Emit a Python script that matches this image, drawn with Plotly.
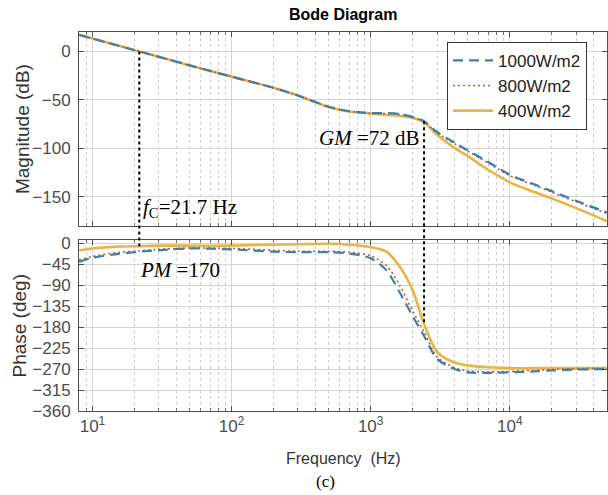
import math
import plotly.graph_objects as go
from plotly.subplots import make_subplots

# ---------------- data ----------------
freq = [8, 10, 15, 21.7, 30, 50, 100, 200, 300, 500, 700, 1000, 1300, 1600,
        2000, 2420, 3000, 4000, 5000, 7000, 10000, 15000, 20000, 30000, 50000]

mag_1000 = [17, 13.3, 6.3, 0, -5.6, -14.4, -26, -37.5, -45.5, -57, -61.5, -63.5, -63.5, -64.5,
            -67.5, -72, -83, -94, -102, -114, -127, -137, -144, -154, -166]
mag_800 = [17, 13.3, 6.3, 0, -5.6, -14.4, -26, -37.5, -45.5, -57.2, -61.8, -64, -64, -65,
           -68, -72.5, -84, -95, -103, -115, -128, -138, -145, -155, -167]
mag_400 = [17, 13.3, 6.3, 0, -5.6, -14.4, -26, -37.5, -45.5, -57.5, -62, -64, -65.5, -66.5,
           -68.5, -73, -86, -99.5, -108, -122, -135, -145, -151.5, -161.5, -175]

ph_1000 = [-40, -31, -23, -18, -15, -11, -13, -18, -19, -19, -22, -32, -58, -103,
           -156, -199, -248, -270, -277, -278, -277, -275, -273, -271, -270]
ph_800 = [-36, -28, -20, -16, -13, -10, -11, -15, -17, -17, -19, -27, -48, -88,
          -145, -190, -244, -267, -274, -276, -275, -273, -271, -269, -268]
ph_400 = [-15, -11, -7, -6, -5, -5, -5, -3, -2, -1, -3, -8, -18, -48,
          -100, -173, -233, -256, -262, -266, -268, -268, -268, -268, -268]

series_names = ["1000W/m2", "800W/m2", "400W/m2"]

fc = 21.7          # crossover frequency (Hz)
f_gm = 2420        # phase-crossover frequency (Hz)
gm_mag = -72       # magnitude at f_gm
pm_phase = -6      # phase near fc
gm_phase = -176    # phase at f_gm

x_tickvals = [10, 100, 1000, 10000]
x_ticktext = ["10<sup>1</sup>", "10<sup>2</sup>", "10<sup>3</sup>", "10<sup>4</sup>"]
minor_vals = [m * 10 ** e for e in range(0, 5) for m in range(2, 10) if 8 <= m * 10 ** e <= 50000]
mag_ticks = [0, -50, -100, -150]
ph_ticks = [0, -45, -90, -135, -180, -225, -270, -315, -360]

# ---------------- layout geometry ----------------
W, H = 608, 495
mag_range = [-180, 20]
ph_range = [-360, 7]
mag_dom = [0.488, 1.0]
ph_dom = [0.0, 0.451]

fig = make_subplots(rows=2, cols=1, shared_xaxes=False, vertical_spacing=0.03)

styles = {
    "1000W/m2": dict(color="#3b80ad", width=2.2, dash="10px,6px"),
    "800W/m2": dict(color="#c0582c", width=1.6, dash="2px,3px"),
    "400W/m2": dict(color="#e8b446", width=2.6, dash="solid"),
}
mags = {"1000W/m2": mag_1000, "800W/m2": mag_800, "400W/m2": mag_400}
phs = {"1000W/m2": ph_1000, "800W/m2": ph_800, "400W/m2": ph_400}
rank = {"1000W/m2": 1, "800W/m2": 2, "400W/m2": 3}

for name in ["400W/m2", "800W/m2", "1000W/m2"]:
    st = styles[name]
    fig.add_trace(go.Scatter(x=freq, y=mags[name], mode="lines", name=name,
                             line=dict(color=st["color"], width=st["width"], dash=st["dash"],
                                       shape="spline", smoothing=0.8),
                             legendrank=rank[name], showlegend=True), row=1, col=1)
    fig.add_trace(go.Scatter(x=freq, y=phs[name], mode="lines", name=name,
                             line=dict(color=st["color"], width=st["width"], dash=st["dash"],
                                       shape="spline", smoothing=0.8),
                             legendrank=rank[name], showlegend=False), row=2, col=1)

axis_common = dict(
    type="log", range=[math.log10(8), math.log10(50000)],
    showline=True, linecolor="#505050", linewidth=1, mirror="ticks",
    ticks="inside", ticklen=5, tickcolor="#505050",
    tickvals=x_tickvals, ticktext=x_ticktext,
    showgrid=True, gridcolor="#d4d4d4", gridwidth=1,
    minor=dict(tickvals=minor_vals, ticks="inside", ticklen=3, tickcolor="#707070",
               showgrid=True, gridcolor="#cfcfcf", griddash="dot", gridwidth=1),
    zeroline=False,
    tickfont=dict(family="Liberation Sans", size=17, color="#4d4d4d"),
)
fig.update_xaxes(**axis_common)
fig.update_xaxes(showticklabels=False, row=1, col=1)
fig.update_xaxes(showticklabels=True, row=2, col=1)

yaxis_common = dict(
    showline=True, linecolor="#505050", linewidth=1, mirror="ticks",
    ticks="inside", ticklen=5, tickcolor="#505050",
    showgrid=True, gridcolor="#d4d4d4", gridwidth=1, zeroline=False,
    tickfont=dict(family="Liberation Sans", size=17, color="#4d4d4d"),
    ticklabelstandoff=4,
)
fig.update_yaxes(**yaxis_common)
fig.update_yaxes(range=mag_range, tickvals=mag_ticks, domain=mag_dom, row=1, col=1)
fig.update_yaxes(range=ph_range, tickvals=ph_ticks, domain=ph_dom, row=2, col=1)
fig.update_xaxes(domain=[0, 1])


def mag_paper(v):
    return mag_dom[0] + (v - mag_range[0]) / (mag_range[1] - mag_range[0]) * (mag_dom[1] - mag_dom[0])


def ph_paper(v):
    return ph_dom[0] + (v - ph_range[0]) / (ph_range[1] - ph_range[0]) * (ph_dom[1] - ph_dom[0])


dotline = dict(color="black", width=2, dash="dot")
fig.add_shape(type="line", xref="x", yref="paper", x0=fc, x1=fc,
              y0=mag_paper(0), y1=ph_paper(pm_phase), line=dotline)
fig.add_shape(type="line", xref="x", yref="paper", x0=f_gm, x1=f_gm,
              y0=mag_paper(gm_mag), y1=ph_paper(gm_phase), line=dotline)

serif = dict(family="Liberation Serif", size=21, color="black")
annos = [
    dict(text="<i>f</i><sub>C</sub>=21.7 Hz", xref="x", yref="y", x=math.log10(fc), y=-161,
         xanchor="left", yanchor="middle", xshift=2, showarrow=False, font=serif),
    dict(text="<i>GM</i> =72 dB", xref="x", yref="y", x=math.log10(f_gm), y=-89,
         xanchor="right", yanchor="middle", xshift=-2, showarrow=False, font=serif),
    dict(text="<i>PM</i> =170", xref="x2", yref="y2", x=math.log10(fc), y=-57,
         xanchor="left", yanchor="middle", xshift=-1, showarrow=False, font=serif),
    dict(text="<b>Bode Diagram</b>", xref="paper", yref="paper", x=0.5, y=1,
         yshift=18, xanchor="center", yanchor="middle", showarrow=False,
         font=dict(family="Liberation Sans", size=16, color="black")),
    dict(text="Frequency  (Hz)", xref="paper", yref="paper", x=0.5, y=0,
         yshift=-47, xanchor="center", yanchor="middle", showarrow=False,
         font=dict(family="Liberation Sans", size=16, color="#333333")),
    dict(text="(c)", xref="paper", yref="paper", x=0.466, y=0,
         yshift=-70, xanchor="center", yanchor="middle", showarrow=False,
         font=dict(family="Liberation Serif", size=17, color="black")),
    dict(text="Magnitude (dB)", xref="paper", yref="paper", x=0, y=sum(mag_dom) / 2,
         xshift=-57, xanchor="center", yanchor="middle", textangle=-90, showarrow=False,
         font=dict(family="Liberation Sans", size=19, color="#333333")),
    dict(text="Phase (deg)", xref="paper", yref="paper", x=0, y=sum(ph_dom) / 2,
         xshift=-59, xanchor="center", yanchor="middle", textangle=-90, showarrow=False,
         font=dict(family="Liberation Sans", size=19, color="#333333")),
]
fig.update_layout(annotations=annos)

fig.update_layout(
    width=W, height=H,
    margin=dict(l=79, r=1, t=32, b=84),
    paper_bgcolor="white", plot_bgcolor="white",
    showlegend=True,
    legend=dict(x=0.697, y=0.974, xanchor="left", yanchor="top",
                bgcolor="white", bordercolor="#333333", borderwidth=1,
                font=dict(family="Liberation Sans", size=17, color="#222222"),
                itemwidth=40, tracegroupgap=0),
)

fig.write_html("out.html")
